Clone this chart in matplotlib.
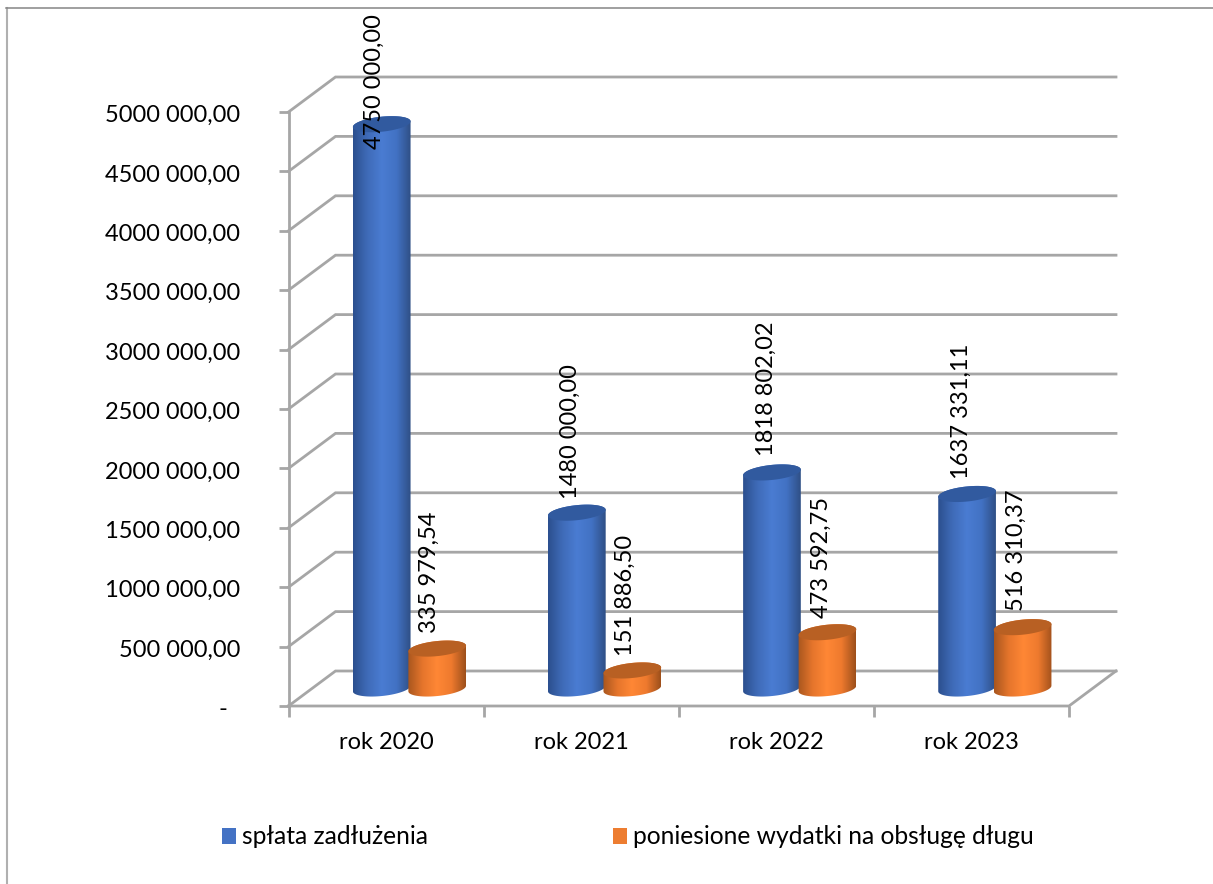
import numpy as np
import matplotlib
matplotlib.use("Agg")
import matplotlib.pyplot as plt
from matplotlib.colors import LinearSegmentedColormap
from matplotlib.patches import Polygon, Patch
from matplotlib.lines import Line2D
from matplotlib.transforms import ScaledTranslation

plt.rcParams['font.family'] = ['Lato', 'DejaVu Sans']

categories = ['rok 2020', 'rok 2021', 'rok 2022', 'rok 2023']
splata = [4750000.00, 1480000.00, 1818802.02, 1637331.11]
wydatki = [335979.54, 151886.50, 473592.75, 516310.37]
splata_labels = ['4750 000,00', '1480 000,00', '1818 802,02', '1637 331,11']
wydatki_labels = ['335 979,54', '151 886,50', '473 592,75', '516 310,37']
series_names = ['spłata zadłużenia', 'poniesione wydatki na obsługę długu']
y_ticks = [0, 500000, 1000000, 1500000, 2000000, 2500000, 3000000, 3500000, 4000000, 4500000, 5000000]
y_tick_labels = ['-  ', '500 000,00', '1000 000,00', '1500 000,00', '2000 000,00', '2500 000,00',
                 '3000 000,00', '3500 000,00', '4000 000,00', '4500 000,00', '5000 000,00']

W, H = 1213, 884
fig = plt.figure(figsize=(W / 100, H / 100), dpi=100)
L, R, T, B = 288.5, 1069, 112, 706
ax = fig.add_axes([L / W, 1 - B / H, (R - L) / W, (B - T) / H])
ax.set_xlim(0, 4)
ax.set_ylim(0, 5000000)
px_x = 4 / (R - L)              # data units per pixel
px_y = 5000000 / (B - T)
GRID = '#a6a6a6'

for s in ax.spines.values():
    s.set_visible(False)
ax.patch.set_visible(False)

# 3D frame
DX, DY = 47 * px_x, 35 * px_y
for v in y_ticks:
    ax.plot([0, DX, 4 + DX], [v, v + DY, v + DY], color=GRID, lw=2, clip_on=False, zorder=1,
            solid_joinstyle='miter')
ax.plot([0, 0], [0, 5000000], color=GRID, lw=2, clip_on=False, zorder=1.2)
ax.plot([0, 4, 4 + DX], [0, 0, DY], color=GRID, lw=2, clip_on=False, zorder=1.2)

ax.set_yticks(y_ticks, y_tick_labels)
ax.set_xticks([0, 1, 2, 3, 4], [''] * 5)
ax.set_xticks([0.5, 1.5, 2.5, 3.5], categories, minor=True)
ax.tick_params(axis='y', length=7, width=2, color=GRID, pad=28, labelsize=17, labelcolor='black')
ax.tick_params(axis='x', which='major', length=8, width=2, color=GRID)
ax.tick_params(axis='x', which='minor', length=0, pad=18.5, labelsize=17, labelcolor='black')
shift_down = ScaledTranslation(0, -1.5 / 100, fig.dpi_scale_trans)
for lab in ax.get_yticklabels():
    lab.set_transform(lab.get_transform() + shift_down)

blue_cmap = LinearSegmentedColormap.from_list('b', ['#2b4f8e', '#3f6bb8', '#4a7cd2', '#4272c4', '#2f4f85'])
orange_cmap = LinearSegmentedColormap.from_list('o', ['#a8561e', '#e5752c', '#ff8735', '#ee7a2e', '#9d4f1b'])
grad = np.linspace(0, 1, 256)[None, :]

BASE_DX, BASE_DY = 23.4 * px_x, 17.5 * px_y
HALF = 29
RY = 7.5
TILT = np.deg2rad(6)


def ellipse_pts(start=0, stop=2 * np.pi, n=80):
    t = np.linspace(start, stop, n)
    ex = HALF * np.cos(t)
    ey = RY * np.sin(t)
    # rotate in pixel space, y up
    px = ex * np.cos(TILT) - ey * np.sin(TILT)
    py = ex * np.sin(TILT) + ey * np.cos(TILT)
    return px, py


def cylinder(xc, value, cmap, top_color, z):
    """xc in category units, value in data units."""
    y0 = BASE_DY
    y1 = value + BASE_DY
    ex, ey = ellipse_pts()
    ex_d, ey_d = ex * px_x, ey * px_y
    k = np.argmin(ex)
    m = np.argmax(ex)
    lower = np.r_[np.arange(k, len(ex) - 1), np.arange(0, m + 1)]
    upper = np.arange(m, k + 1)
    xs = np.r_[xc + ex_d[lower], xc + ex_d[upper]]
    ys = np.r_[y0 + ey_d[lower], y1 + ey_d[upper]]
    body = Polygon(np.c_[xs, ys], closed=True, transform=ax.transData, fc='none', ec='none')
    ax.add_patch(body)
    body.set_clip_on(False)
    hw = HALF * px_x
    im = ax.imshow(grad, cmap=cmap, aspect='auto', zorder=z, interpolation='bilinear',
                   extent=[xc - hw, xc + hw, y0 - 10 * px_y, y1 + 10 * px_y])
    im.set_clip_path(body)
    ax.add_patch(Polygon(np.c_[xc + ex_d, y1 + ey_d], closed=True, fc=top_color, ec='none',
                         zorder=z + 0.01, clip_on=False))


centers = np.arange(4) + 0.5 + BASE_DX
for i in range(4):
    cylinder(centers[i] - 27.75 * px_x, splata[i], blue_cmap, '#315a9f', 3 + i * 0.1)
    cylinder(centers[i] + 27.75 * px_x, wydatki[i], orange_cmap, '#b86023', 3.05 + i * 0.1)
ax.set_xlim(0, 4)
ax.set_ylim(0, 5000000)

# data labels: offset in pixels from bar-top (x, y up) of the text's lower end
blue_off = [(-7, -25), (-6, 14), (-6, 16), (-6, 15)]
orange_off = [(-8, 16), (-7, 14), (-6, 14), (-6, 16)]
for i in range(4):
    ax.annotate(splata_labels[i], (centers[i] - 27.75 * px_x, splata[i] + BASE_DY),
                xytext=(blue_off[i][0] * 0.72, blue_off[i][1] * 0.72), textcoords='offset points',
                rotation=90, ha='center', va='bottom', fontsize=17, zorder=6, annotation_clip=False)
    ax.annotate(wydatki_labels[i], (centers[i] + 27.75 * px_x, wydatki[i] + BASE_DY),
                xytext=(orange_off[i][0] * 0.72, orange_off[i][1] * 0.72), textcoords='offset points',
                rotation=90, ha='center', va='bottom', fontsize=17, zorder=6, annotation_clip=False)

# legend
handles = [Patch(fc='#4472c4', ec='none'), Patch(fc='#ed7d31', ec='none')]
fig.legend(handles, series_names, loc='center left', bbox_to_anchor=(221.5 / W, 1 - 837 / H), ncols=2,
           frameon=False, fontsize=17.7, handlelength=0.6, handleheight=0.6, handletextpad=0.24,
           columnspacing=7.5, borderpad=0, borderaxespad=0)

# chart frame
fig.add_artist(Line2D([7 / W, 7 / W], [0, 1 - 7.5 / H], color='#b0b0b0', lw=1.5))
fig.add_artist(Line2D([6 / W, 1], [1 - 7.5 / H, 1 - 7.5 / H], color='#858585', lw=1.1))

fig.savefig('out.png', dpi=100, facecolor='white')
